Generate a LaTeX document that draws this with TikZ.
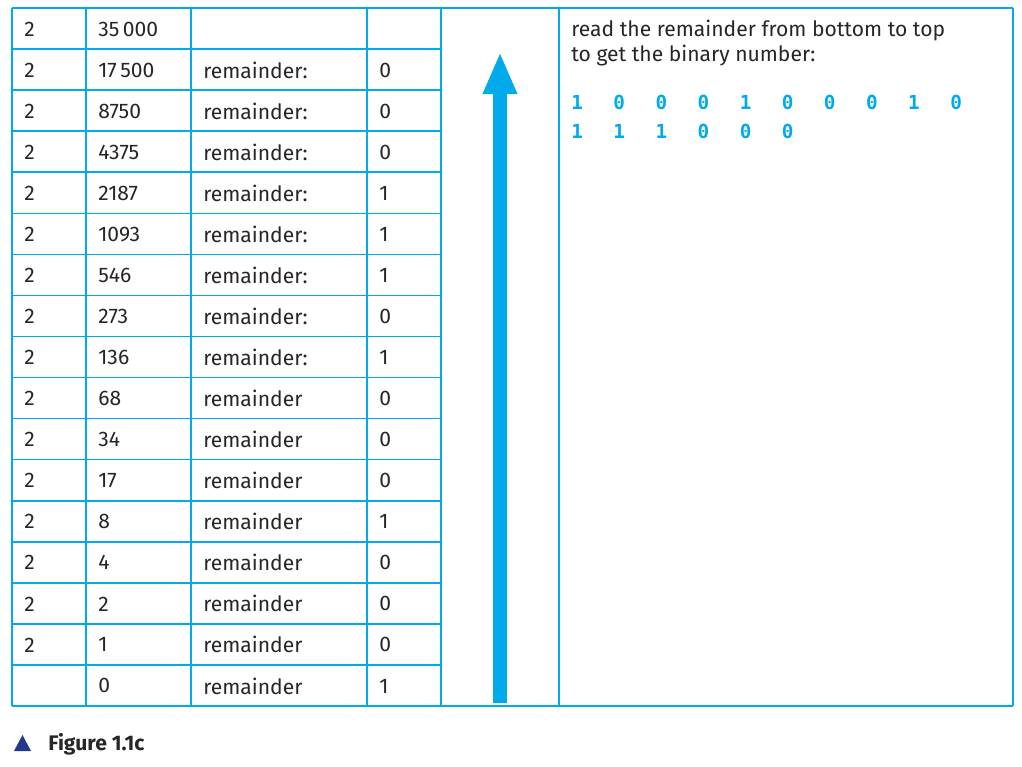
\documentclass[tikz,border=0pt]{standalone}
\usepackage{fontspec}
\setmainfont{Fira Sans}
\setmonofont{DejaVu Sans Mono}
\usetikzlibrary{arrows.meta}
\definecolor{tblue}{RGB}{0,170,235}
\definecolor{darkblue}{RGB}{35,55,140}
\tikzset{
  grid line/.style={tblue, line width=0.9pt},
  cell/.style={anchor=west, inner sep=0pt, font=\fontsize{12}{14}\selectfont\color{black!85}},
  bit/.style={anchor=west, inner sep=0pt, font=\ttfamily\bfseries\fontsize{11}{13}\selectfont, text=tblue},
}
\begin{document}
\begin{tikzpicture}[x=0.02cm, y=-0.02cm]
  \useasboundingbox (0,0) rectangle (1022,767);

  % table lines
  \foreach \i in {0,...,17}
    \draw[grid line] (12,{8+\i*41.06}) -- (441,{8+\i*41.06});
  \draw[grid line] (441,8) -- (1013,8);
  \draw[grid line] (441,706) -- (1013,706);
  \foreach \x in {12,86,191,367,441,559,1013}
    \draw[grid line] (\x,8) -- (\x,706);

  % rows
  \foreach [count=\i from 0] \d/\n/\r/\b in {
      2/35\,000//, 2/17\,500/remainder:/0, 2/8750/remainder:/0,
      2/4375/remainder:/0, 2/2187/remainder:/1, 2/1093/remainder:/1,
      2/546/remainder:/1, 2/273/remainder:/0, 2/136/remainder:/1,
      2/68/remainder/0, 2/34/remainder/0, 2/17/remainder/0,
      2/8/remainder/1, 2/4/remainder/0, 2/2/remainder/0,
      2/1/remainder/0, /0/remainder/1} {
    \node[cell] (d\i) at (24,{29+\i*41.06}) {\d};
    \node[cell] (n\i) at (98,{29+\i*41.06}) {\n};
    \node[cell] (r\i) at (203,{29+\i*41.06}) {\r};
    \node[cell] (b\i) at (379,{29+\i*41.06}) {\b};
  }

  % arrow
  \coordinate (abot) at (500,703);
  \coordinate (atop) at (500,52);
  \draw[tblue, line width=8pt, -{Triangle[length=24pt, width=18pt]}] (abot) -- (atop);

  % explanation
  \node[cell, anchor=north west, align=left] (txt) at (571,20)
    {read the remainder from bottom to top\\to get the binary number:};
  \foreach [count=\k from 0] \v in {1,0,0,0,1,0,0,0,1,0}
    \node[bit] (p\k) at ({571+\k*42.1},102) {\v};
  \foreach [count=\k from 0] \v in {1,1,1,0,0,0}
    \node[bit] (q\k) at ({571+\k*42.1},131) {\v};

  % caption
  \fill[darkblue] (14,751) -- (31,751) -- (22.5,735) -- cycle;
  \node[anchor=west, inner sep=0pt, font=\bfseries\fontsize{12}{14}\selectfont, text=black!85] (cap) at (48,744) {Figure 1.1c};
\end{tikzpicture}
\end{document}
